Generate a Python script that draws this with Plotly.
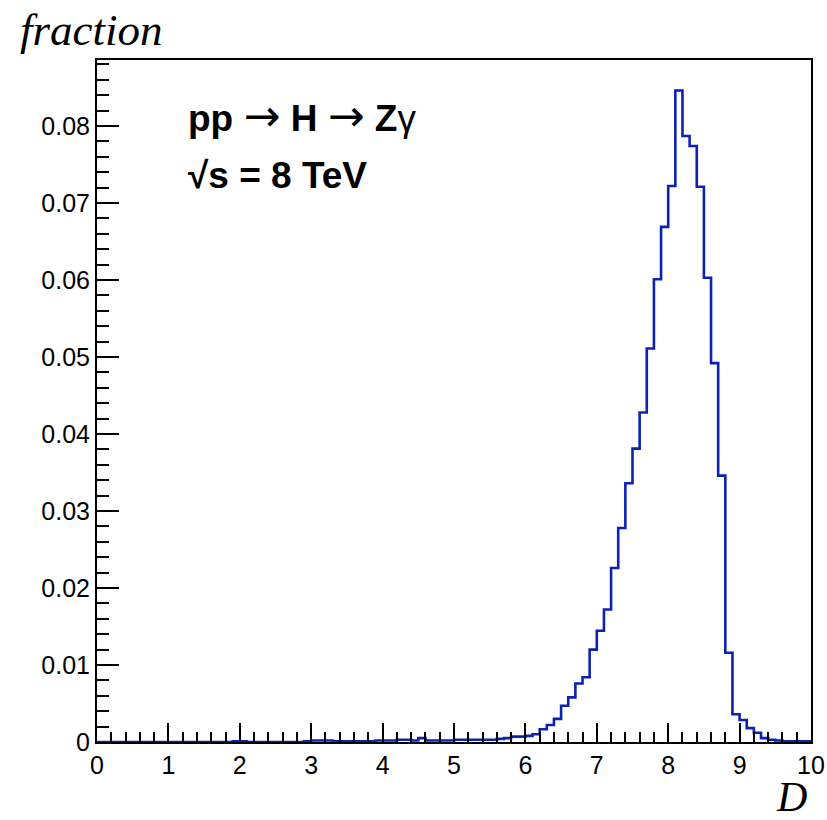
import plotly.graph_objects as go

bin_lo = 0.0
bin_hi = 10.0
n_bins = 100
fractions = [
    0, 0, 0, 0, 0, 0, 0, 0, 0, 0,
    0, 0, 0, 0, 0, 0, 0, 0, 0, 0.0001,
    0.0001, 0, 0, 0, 0, 0, 0, 0, 0, 0.0001,
    0.0002, 0.0002, 0.0002, 0.0001, 0.0001, 0.0001, 0.0001, 0.0001, 0.0001, 0.0002,
    0.0002, 0.0002, 0.0003, 0.0003, 0.0002, 0.0005, 0.0002, 0.0002, 0.0002, 0.0002,
    0.0003, 0.0003, 0.0003, 0.0003, 0.0003, 0.0003, 0.0004, 0.0005, 0.0007, 0.0007,
    0.0008, 0.0010, 0.00165, 0.0022, 0.0030, 0.0047, 0.0058, 0.0076, 0.0084, 0.0120,
    0.01445, 0.0172, 0.0226, 0.0278, 0.0336, 0.0381, 0.0428, 0.0511, 0.0601, 0.0669,
    0.0722, 0.0846, 0.0787, 0.0774, 0.0721, 0.0603, 0.0492, 0.0346, 0.0116, 0.0036,
    0.00286, 0.0018, 0.0012, 0.0005, 0.0003, 0.0002, 0.0001, 0.0001, 0.0001, 0.0001,
]

width = (bin_hi - bin_lo) / n_bins
edges = [round(bin_lo + i * width, 6) for i in range(n_bins + 1)]
xs = [edges[0]] + edges + [edges[-1]]
ys = [0] + fractions + [fractions[-1], 0]

fig = go.Figure()
fig.add_trace(go.Scatter(
    x=xs, y=ys, mode="lines", line=dict(shape="hv", color="#0b22b2", width=2.6),
    hoverinfo="skip", showlegend=False,
))

axis_font = dict(family="Liberation Sans, Arial, Helvetica, sans-serif", size=25, color="black")

fig.update_layout(
    width=827, height=820,
    margin=dict(l=97, r=16, t=60, b=78),
    paper_bgcolor="white", plot_bgcolor="white",
    xaxis=dict(
        range=[0, 10], tick0=0, dtick=1, ticks="inside", ticklen=19, tickwidth=2,
        tickcolor="black", showline=True, linecolor="black", linewidth=2, mirror=True,
        showgrid=False, zeroline=False, tickfont=axis_font, automargin=False,
        minor=dict(ticks="inside", ticklen=10, tickwidth=2, dtick=0.2, tickcolor="black", showgrid=False),
    ),
    yaxis=dict(
        range=[0, 0.08857], tick0=0, dtick=0.01, ticks="inside", ticklen=22, tickwidth=2,
        tickcolor="black", showline=True, linecolor="black", linewidth=2, mirror=True,
        showgrid=False, zeroline=False, tickfont=axis_font, automargin=False,
        minor=dict(ticks="inside", ticklen=12, tickwidth=2, dtick=0.002, tickcolor="black", showgrid=False),
    ),
)

serif = dict(family="Liberation Serif, Times New Roman, serif", size=45, color="black")
serif_d = dict(family="Liberation Serif, Times New Roman, serif", size=42, color="black")
sans_b = dict(family="Liberation Sans, Arial, Helvetica, sans-serif", size=37, color="black")

arrow = '<span style="font-family:DejaVu Sans;font-weight:normal;font-size:44px">→</span>'

fig.add_annotation(text="<i>fraction</i>", xref="paper", yref="paper",
                   x=-0.1106, y=1.044, xanchor="left", yanchor="middle",
                   showarrow=False, font=serif)
fig.add_annotation(text="<i>D</i>", xref="paper", yref="paper",
                   x=0.9975, y=-0.081, xanchor="right", yanchor="middle",
                   showarrow=False, font=serif_d)
fig.add_annotation(text=f"<b>pp</b> {arrow} <b>H</b> {arrow} <b>Z</b>γ", xref="paper", yref="paper",
                   x=0.124, y=0.919, xanchor="left", yanchor="middle",
                   showarrow=False, font=sans_b)
fig.add_annotation(text="<b>√s = 8 TeV</b>", xref="paper", yref="paper",
                   x=0.124, y=0.831, xanchor="left", yanchor="middle",
                   showarrow=False, font=sans_b)

fig.write_html("out.html")
